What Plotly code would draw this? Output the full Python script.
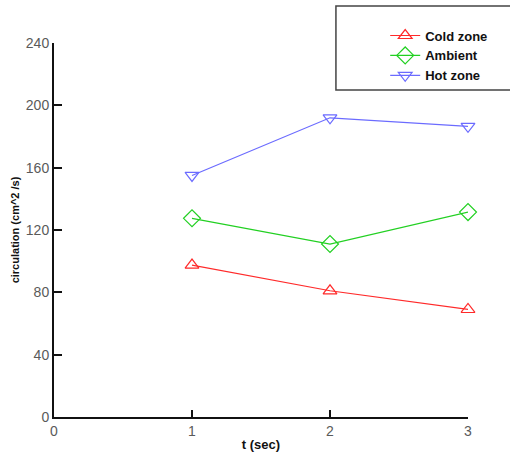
import plotly.graph_objects as go

# time points (s)
t = [1, 2, 3]

# circulation per zone (cm^2/s)
cold_zone = [97.5, 81, 69]
ambient = [127.5, 111, 131.5]
hot_zone = [155, 192, 186.5]

series_names = ["Cold zone", "Ambient", "Hot zone"]
series_values = [cold_zone, ambient, hot_zone]
series_colors = ["#ff2a2a", "#22d022", "#6b6bff"]
series_symbols = ["triangle-up-open", "diamond-open", "triangle-down-open"]
series_sizes = [12, 13, 12]

x_ticks = [0, 1, 2, 3]
y_ticks = [0, 40, 80, 120, 160, 200, 240]

fig = go.Figure()
for name, vals, col, sym, sz in zip(series_names, series_values, series_colors,
                                     series_symbols, series_sizes):
    fig.add_trace(go.Scatter(
        x=t, y=vals, name=name, mode="lines+markers",
        line=dict(color=col, width=1.2),
        marker=dict(symbol=sym, size=sz, color=col, line=dict(color=col, width=1.2)),
        cliponaxis=False,
    ))

axis_font = dict(family="Liberation Sans, Arial", size=14, color="#5a5a5a")
title_font = dict(family="Liberation Sans, Arial", size=11, color="#111111")

fig.update_layout(
    width=510, height=453,
    margin=dict(l=54, r=42, t=43, b=36),
    paper_bgcolor="white", plot_bgcolor="white",
    showlegend=True,
    legend=dict(
        x=0.80, y=1.06, xanchor="left", yanchor="top",
        bgcolor="rgba(0,0,0,0)", borderwidth=0,
        font=dict(family="Liberation Sans, Arial", size=13, color="#111111",
                  weight="bold"),
        tracegroupgap=0,
    ),
    xaxis=dict(
        range=[0, 3], tickvals=x_ticks, showgrid=False, zeroline=False,
        showline=True, linecolor="#111111", linewidth=2,
        ticks="inside", ticklen=7, tickwidth=1.5, tickcolor="#111111",
        tickfont=axis_font, automargin=False,
        title=dict(text="<b>t (sec)</b>", font=dict(family="Liberation Sans, Arial",
                                                     size=13, color="#111111"),
                   standoff=2),
    ),
    yaxis=dict(
        range=[0, 240], tickvals=y_ticks, showgrid=False, zeroline=False,
        showline=True, linecolor="#111111", linewidth=2,
        ticks="inside", ticklen=8, tickwidth=1.5, tickcolor="#111111",
        tickfont=axis_font, automargin=False,
        title=dict(text="<b>circulation (cm^2 /s)</b>", font=title_font, standoff=4),
    ),
    shapes=[dict(
        type="rect", xref="paper", yref="paper",
        x0=0.681, x1=1.25, y0=0.874, y1=1.099,
        line=dict(color="#444444", width=1.5), fillcolor="rgba(0,0,0,0)",
    )],
)

fig.write_html("out.html")
